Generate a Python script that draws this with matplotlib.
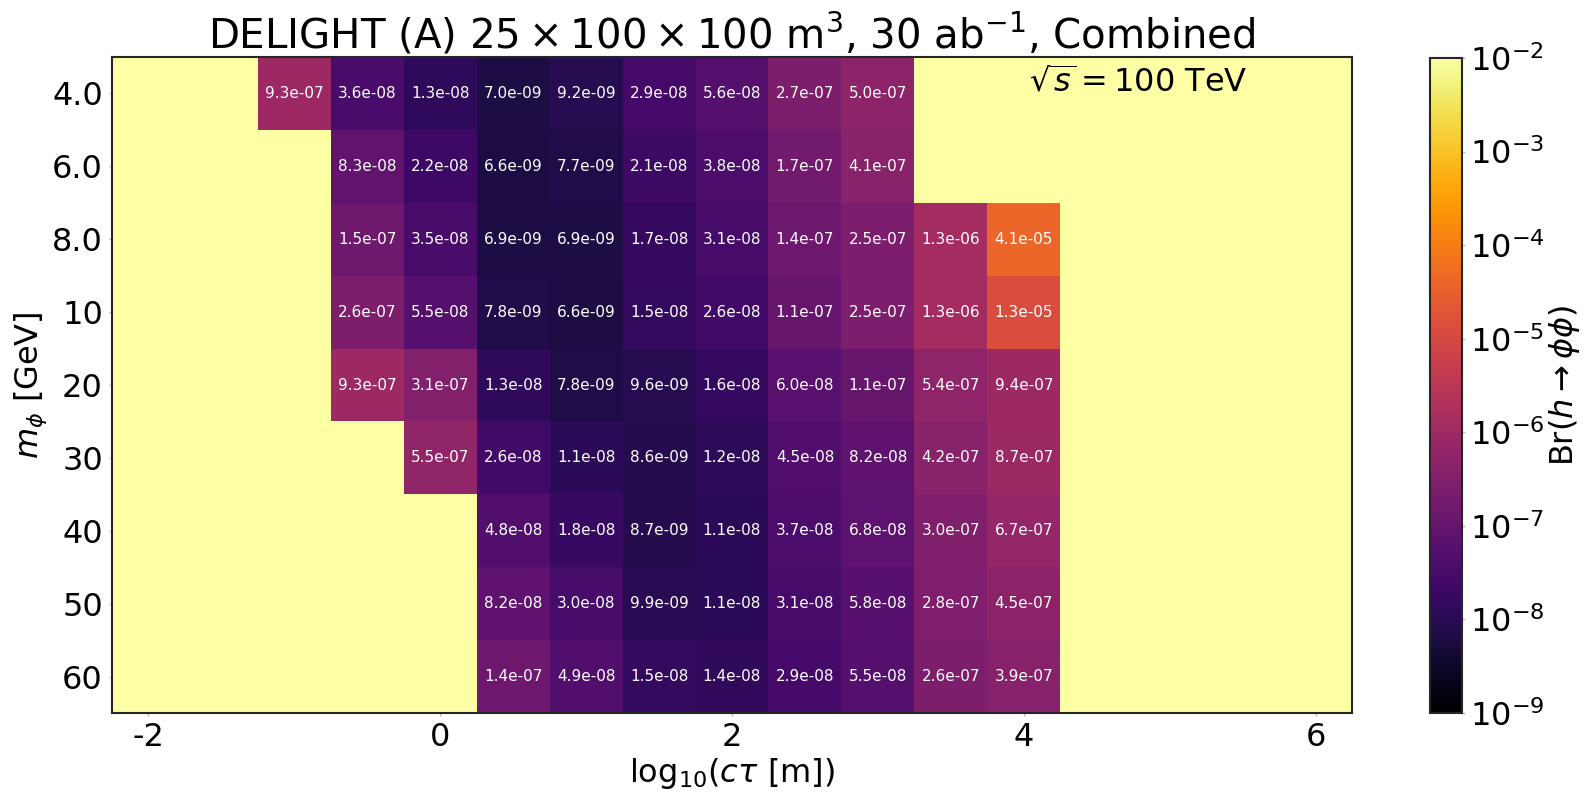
import numpy as np
import matplotlib
matplotlib.use("Agg")
import matplotlib.pyplot as plt
from matplotlib.colors import LogNorm

# ---------------- data ----------------
log_ctau = [-2.0, -1.5, -1.0, -0.5, 0.0, 0.5, 1.0, 1.5, 2.0, 2.5, 3.0,
            3.5, 4.0, 4.5, 5.0, 5.5, 6.0]
mass_labels = ["4.0", "6.0", "8.0", "10", "20", "30", "40", "50", "60"]

N = None
br_m4 = [N, N, 9.3e-07, 3.6e-08, 1.3e-08, 7.0e-09, 9.2e-09, 2.9e-08, 5.6e-08, 2.7e-07, 5.0e-07, N, N, N, N, N, N]
br_m6 = [N, N, N, 8.3e-08, 2.2e-08, 6.6e-09, 7.7e-09, 2.1e-08, 3.8e-08, 1.7e-07, 4.1e-07, N, N, N, N, N, N]
br_m8 = [N, N, N, 1.5e-07, 3.5e-08, 6.9e-09, 6.9e-09, 1.7e-08, 3.1e-08, 1.4e-07, 2.5e-07, 1.3e-06, 4.1e-05, N, N, N, N]
br_m10 = [N, N, N, 2.6e-07, 5.5e-08, 7.8e-09, 6.6e-09, 1.5e-08, 2.6e-08, 1.1e-07, 2.5e-07, 1.3e-06, 1.3e-05, N, N, N, N]
br_m20 = [N, N, N, 9.3e-07, 3.1e-07, 1.3e-08, 7.8e-09, 9.6e-09, 1.6e-08, 6.0e-08, 1.1e-07, 5.4e-07, 9.4e-07, N, N, N, N]
br_m30 = [N, N, N, N, 5.5e-07, 2.6e-08, 1.1e-08, 8.6e-09, 1.2e-08, 4.5e-08, 8.2e-08, 4.2e-07, 8.7e-07, N, N, N, N]
br_m40 = [N, N, N, N, N, 4.8e-08, 1.8e-08, 8.7e-09, 1.1e-08, 3.7e-08, 6.8e-08, 3.0e-07, 6.7e-07, N, N, N, N]
br_m50 = [N, N, N, N, N, 8.2e-08, 3.0e-08, 9.9e-09, 1.1e-08, 3.1e-08, 5.8e-08, 2.8e-07, 4.5e-07, N, N, N, N]
br_m60 = [N, N, N, N, N, 1.4e-07, 4.9e-08, 1.5e-08, 1.4e-08, 2.9e-08, 5.5e-08, 2.6e-07, 3.9e-07, N, N, N, N]
rows = [br_m4, br_m6, br_m8, br_m10, br_m20, br_m30, br_m40, br_m50, br_m60]

vmin, vmax = 1e-9, 1e-2
x_ticks = [-2, 0, 2, 4, 6]
x_tick_labels = ["-2", "0", "2", "4", "6"]
cbar_ticks = [1e-9, 1e-8, 1e-7, 1e-6, 1e-5, 1e-4, 1e-3, 1e-2]

# ---------------- plot ----------------
Z = np.array([[np.nan if v is None else v for v in r] for r in rows], dtype=float)
Zplot = np.where(np.isnan(Z), vmax, Z)

fig = plt.figure(figsize=(15.95, 8.02), dpi=100)
ax = fig.add_axes([112/1595, 89/802, 1240/1595, 656/802])
cax = fig.add_axes([1430/1595, 89/802, 32/1595, 655/802])

spine_col = "#262626"
cmap = plt.get_cmap("inferno")
yidx = np.arange(len(mass_labels))
mesh = ax.pcolormesh(log_ctau, yidx, Zplot, cmap=cmap,
                     norm=LogNorm(vmin=vmin, vmax=vmax), shading="nearest")
ax.set_ylim(len(mass_labels) - 0.5, -0.5)
ax.set_xlim(-2.25, 6.25)

for i, r in enumerate(rows):
    for j, v in enumerate(r):
        if v is not None:
            ax.text(log_ctau[j], i, f"{v:.1e}", ha="center", va="center",
                    color="white", fontsize=11)

ax.set_xticks(x_ticks)
ax.set_xticklabels(x_tick_labels)
ax.set_yticks(yidx)
ax.set_yticklabels(mass_labels)
ax.tick_params(axis="both", labelsize=23, length=2.5, width=1,
               color="#bbbbbb", pad=4)
for s in ax.spines.values():
    s.set_color(spine_col)
    s.set_linewidth(1.5)

ax.set_xlabel(r"log$_{10}$($c\tau$ [m])", fontsize=23, labelpad=2)
ax.set_ylabel(r"$m_\phi$ [GeV]", fontsize=23, labelpad=2)
ax.set_title(r"DELIGHT (A) $25\times100\times100$ m$^3$, 30 ab$^{-1}$, Combined",
             fontsize=29, pad=5)
ax.text(0.916, 0.985, r"$\sqrt{s} = 100$ TeV", transform=ax.transAxes,
        ha="right", va="top", fontsize=23)

cb = fig.colorbar(mesh, cax=cax)
cb.set_ticks(cbar_ticks)
cb.ax.tick_params(labelsize=23, length=2.5, width=1, color="#bbbbbb", pad=3)
cb.outline.set_edgecolor(spine_col)
cb.outline.set_linewidth(1.5)
cb.set_label(r"Br($h\to\phi\phi$)", fontsize=23, labelpad=2)
cb.ax.minorticks_off()

fig.savefig("out.png", dpi=100)
